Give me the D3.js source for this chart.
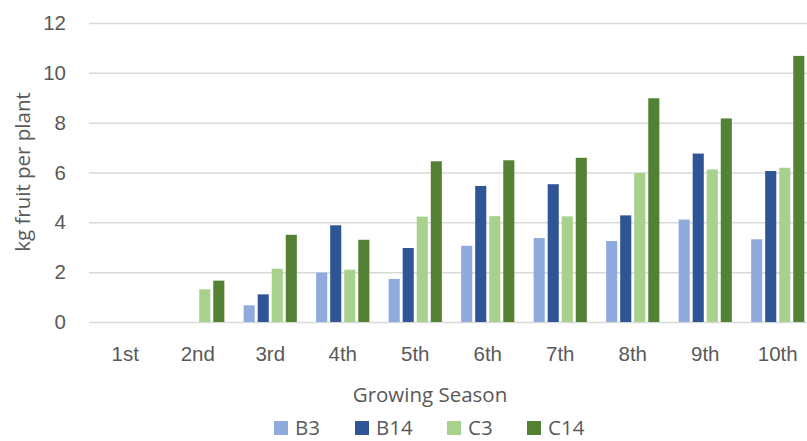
<!DOCTYPE html>
<html>
<head>
<meta charset="utf-8">
<script src="https://cdn.jsdelivr.net/npm/d3@7"></script>
<style>
  html, body { margin: 0; padding: 0; background: #fff; }
  svg { display: block; font-family: "Open Sans", "Noto Sans", sans-serif; }
</style>
</head>
<body>
<svg id="chart" width="807" height="441"></svg>
<script>
// Yield per plant for each growing season, by treatment
const seasons = ["1st", "2nd", "3rd", "4th", "5th", "6th", "7th", "8th", "9th", "10th"];
const seriesNames = ["B3", "B14", "C3", "C14"];
const seriesColors = ["#8FAADC", "#2F5597", "#A9D18E", "#548235"];
const B3  = [null, null, 0.67, 1.98, 1.73, 3.06, 3.37, 3.25, 4.11, 3.32];
const B14 = [null, null, 1.11, 3.88, 2.97, 5.46, 5.53, 4.28, 6.76, 6.06];
const C3  = [null, 1.31, 2.14, 2.10, 4.23, 4.25, 4.24, 5.98, 6.12, 6.19];
const C14 = [null, 1.66, 3.50, 3.30, 6.45, 6.49, 6.59, 8.98, 8.17, 10.68];
const yTicks = [0, 2, 4, 6, 8, 10, 12];

const seriesValues = [B3, B14, C3, C14];
const textColor = "#595959";
const fontSize = 20.5;

const svg = d3.select("#chart");

const x = d3.scaleBand().domain(seasons).range([89, 814]).paddingInner(0).paddingOuter(0);
const y = d3.scaleLinear().domain([0, 12]).range([322, 23]);
const xs = d3.scaleBand().domain(seriesNames).range([0, 53.2]).paddingInner(0.21).paddingOuter(0);

// Gridlines and value labels
const yAxis = d3.axisLeft(y).tickValues(yTicks).tickSize(-(814 - 89)).tickPadding(23).tickFormat(d3.format("d"));
const gy = svg.append("g").attr("transform", "translate(89,0)").call(yAxis);
gy.select(".domain").remove();
gy.selectAll(".tick line").attr("stroke", "#D9D9D9").attr("stroke-width", 1.5);
gy.selectAll(".tick text").attr("fill", textColor).attr("font-size", fontSize);

// Bars
const groups = svg.append("g").selectAll("g")
  .data(seriesNames.map((name, i) => ({ name, color: seriesColors[i], values: seriesValues[i] })))
  .join("g")
  .attr("fill", d => d.color);

groups.selectAll("rect")
  .data(d => d.values.map((v, j) => ({ name: d.name, season: seasons[j], value: v })).filter(e => e.value != null))
  .join("rect")
  .attr("x", e => x(e.season) + (x.bandwidth() - 53.2) / 2 + xs(e.name))
  .attr("width", xs.bandwidth())
  .attr("y", e => y(e.value))
  .attr("height", e => y(0) - y(e.value));

// Category axis labels
const xAxis = d3.axisBottom(x).tickSize(0).tickPadding(24);
const gx = svg.append("g").attr("transform", "translate(0,322)").call(xAxis);
gx.select(".domain").remove();
gx.selectAll(".tick text").attr("fill", textColor).attr("font-size", fontSize);

// Axis titles
svg.append("text")
  .attr("x", 430).attr("y", 402)
  .attr("text-anchor", "middle")
  .attr("fill", textColor).attr("font-size", fontSize)
  .text("Growing Season");

svg.append("text")
  .attr("transform", "translate(30,172) rotate(-90)")
  .attr("text-anchor", "middle")
  .attr("fill", textColor).attr("font-size", fontSize)
  .text("kg fruit per plant");

// Legend
const legendX = [274, 355, 447, 527];
const legend = svg.append("g").selectAll("g")
  .data(seriesNames)
  .join("g")
  .attr("transform", (d, i) => `translate(${legendX[i]},421)`);
legend.append("rect").attr("width", 14).attr("height", 14).attr("fill", (d, i) => seriesColors[i]);
legend.append("text")
  .attr("x", 21).attr("y", 14)
  .attr("fill", textColor).attr("font-size", fontSize)
  .text(d => d);
</script>
</body>
</html>
